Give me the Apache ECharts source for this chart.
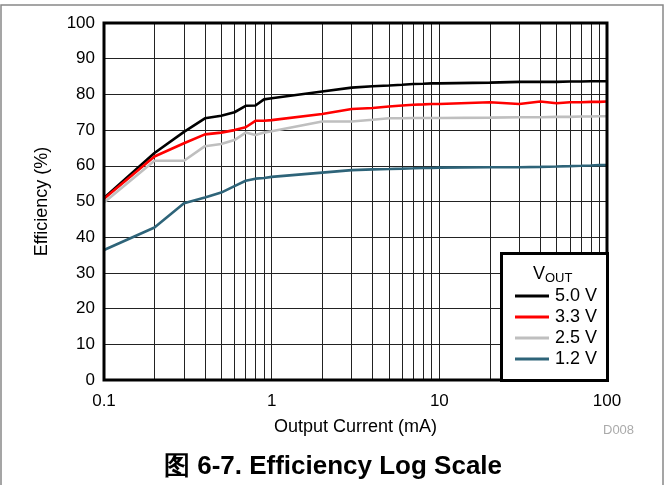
<!DOCTYPE html>
<html>
<head>
<meta charset="utf-8">
<script src="https://cdn.jsdelivr.net/npm/echarts@6/dist/echarts.min.js"></script>
<style>
  html, body { margin: 0; padding: 0; background: #fff; }
  #chart { width: 666px; height: 485px; }
</style>
</head>
<body>
<div id="chart"></div>
<script>
// output current (mA)
const current = [0.1, 0.2, 0.3, 0.4, 0.5, 0.6, 0.7, 0.8, 0.9, 1, 2, 3, 4, 5, 6, 7, 8, 9, 10, 20, 30, 40, 50, 60, 70, 80, 90, 100];
// efficiency (%) per VOUT
const eff50 = [51, 63.6, 69.5, 73.3, 74, 75, 76.8, 76.9, 78.6, 78.9, 80.8, 81.9, 82.3, 82.5, 82.7, 82.9, 83, 83.1, 83.1, 83.3, 83.5, 83.5, 83.5, 83.6, 83.6, 83.7, 83.7, 83.7];
const eff33 = [50.8, 62.6, 66.3, 68.8, 69.3, 70.0, 70.8, 72.6, 72.6, 72.8, 74.5, 75.9, 76.2, 76.6, 76.9, 77.1, 77.2, 77.3, 77.3, 77.8, 77.3, 78.0, 77.5, 77.8, 77.8, 77.9, 77.9, 78.0];
const eff25 = [49.7, 61.4, 61.4, 65.5, 66.1, 67.2, 69.3, 68.6, 69.3, 69.7, 72.4, 72.4, 72.9, 73.3, 73.3, 73.4, 73.4, 73.4, 73.4, 73.5, 73.6, 73.6, 73.7, 73.7, 73.8, 73.8, 73.9, 73.9];
const eff12 = [36.4, 42.7, 49.5, 51.1, 52.5, 54.3, 55.8, 56.4, 56.6, 56.9, 58.1, 58.8, 59.0, 59.1, 59.2, 59.3, 59.4, 59.4, 59.5, 59.6, 59.6, 59.7, 59.8, 59.9, 60.0, 60.1, 60.2, 60.2];
// log grid lines between decades
const minorGrid = [0.2, 0.3, 0.4, 0.5, 0.6, 0.7, 0.8, 0.9, 1, 2, 3, 4, 5, 6, 7, 8, 9, 10, 20, 30, 40, 50, 60, 70, 80, 90];
const seriesNames = ['5.0 V', '3.3 V', '2.5 V', '1.2 V'];
const seriesColors = ['#000000', '#ff0000', '#bfbfbf', '#2e6479'];

const chart = echarts.init(document.getElementById('chart'));
const font = 'Liberation Sans, Arial, Helvetica, sans-serif';

const lines = [eff50, eff33, eff25, eff12].map((vals, i) => ({
  name: seriesNames[i],
  type: 'line',
  symbol: 'none',
  z: 3,
  lineStyle: { color: seriesColors[i], width: 2.6 },
  itemStyle: { color: seriesColors[i] },
  data: current.map((c, k) => [c, vals[k]])
}));

const option = {
  animation: false,
  backgroundColor: '#fff',
  grid: {
    left: 104, top: 23, right: 59, bottom: 105,
    show: true, borderColor: '#000', borderWidth: 3, z: 4
  },
  xAxis: {
    type: 'log',
    logBase: 10,
    min: 0.1,
    max: 100,
    name: 'Output Current (mA)',
    nameLocation: 'middle',
    nameGap: 38,
    nameTextStyle: { color: '#000', fontSize: 18, fontFamily: font },
    axisLine: { show: false },
    axisTick: { show: false },
    splitLine: { show: false },
    axisLabel: { color: '#000', fontSize: 17, fontFamily: font, margin: 13 }
  },
  yAxis: {
    type: 'value',
    min: 0,
    max: 100,
    interval: 10,
    name: 'Efficiency (%)',
    nameLocation: 'middle',
    nameGap: 53,
    nameTextStyle: { color: '#000', fontSize: 18, fontFamily: font },
    axisLine: { show: false },
    axisTick: { show: false },
    splitLine: { lineStyle: { color: '#222', width: 1 } },
    axisLabel: { color: '#000', fontSize: 17, fontFamily: font, margin: 9 }
  },
  legend: {
    data: seriesNames,
    orient: 'vertical',
    left: 510,
    top: 282,
    z: 200,
    icon: 'rect',
    itemWidth: 34,
    itemHeight: 3,
    itemGap: 3,
    textStyle: { color: '#000', fontSize: 18, fontFamily: font, padding: [0, 0, 0, 1] }
  },
  graphic: [
    {
      type: 'rect', z: -10, silent: true,
      shape: { x: 1, y: 5, width: 662, height: 500 },
      style: { fill: 'none', stroke: '#888', lineWidth: 1.5 }
    },
    {
      type: 'rect', z: 100, silent: true,
      shape: { x: 501.5, y: 253.5, width: 106, height: 127 },
      style: { fill: '#fff', stroke: '#000', lineWidth: 3 }
    },
    {
      type: 'text', z: 101, silent: true, left: 533, top: 265,
      style: {
        text: '{v|V}{s|OUT}',
        rich: {
          v: { fontSize: 18, fontFamily: font, fill: '#000' },
          s: { fontSize: 13, fontFamily: font, fill: '#000', padding: [8, 0, 0, 0] }
        }
      }
    },
    {
      type: 'text', silent: true, left: 603, top: 424,
      style: { text: 'D008', fontSize: 13, fontFamily: font, fill: '#aaa' }
    },
    {
      type: 'text', silent: true, left: 'center', top: 454,
      style: { text: '图 6-7. Efficiency Log Scale', fontSize: 26, fontWeight: 'bold', fontFamily: font, fill: '#000' }
    }
  ],
  series: [
    {
      type: 'line',
      data: [],
      z: 1,
      silent: true,
      markLine: {
        silent: true,
        symbol: 'none',
        z: 1,
        label: { show: false },
        lineStyle: { color: '#222', width: 1, type: 'solid' },
        emphasis: { disabled: true },
        data: minorGrid.map(v => ({ xAxis: v }))
      }
    }
  ].concat(lines)
};

chart.setOption(option);
</script>
</body>
</html>
